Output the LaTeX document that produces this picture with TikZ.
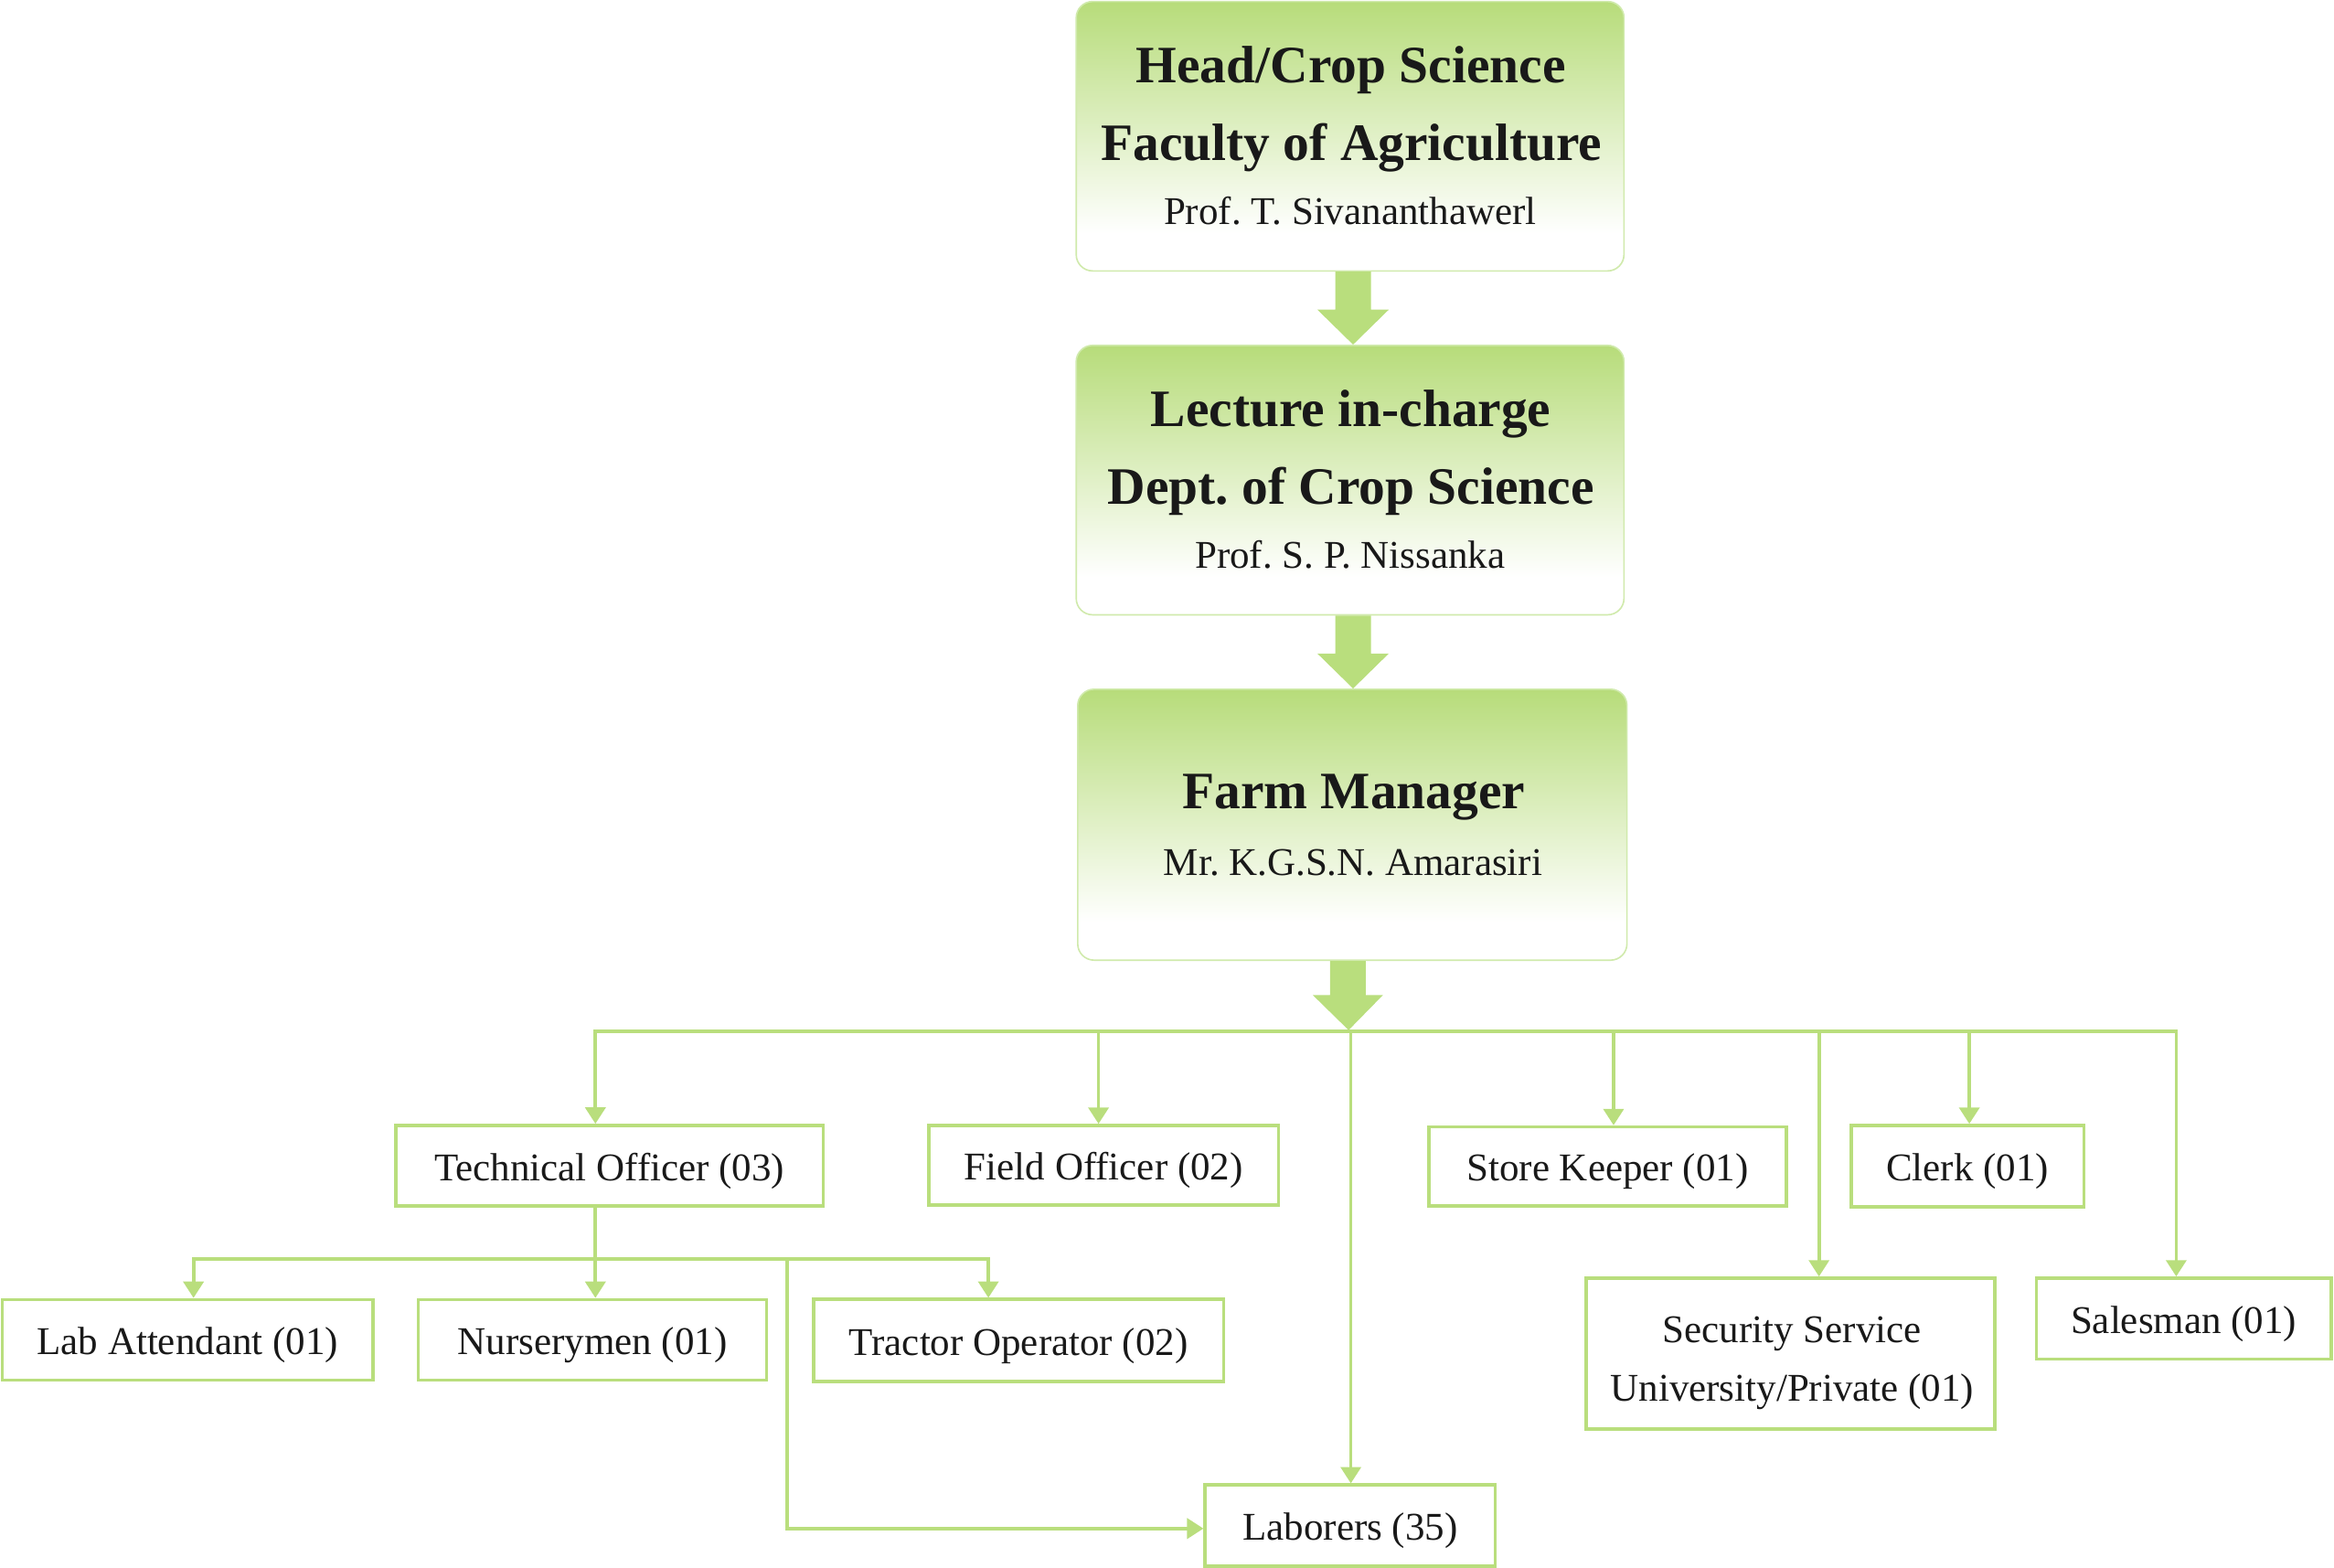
\documentclass[tikz,border=0pt]{standalone}
\usepackage{fontspec}
\setmainfont{Liberation Serif}
\usetikzlibrary{arrows.meta,calc}
\definecolor{gline}{RGB}{185,222,125}
\definecolor{gtop}{RGB}{183,220,122}
\definecolor{gborder}{RGB}{208,234,172}
\pgfdeclareverticalshading{boxgrad}{100bp}{color(0bp)=(white); color(32bp)=(white); color(75bp)=(gtop); color(100bp)=(gtop)}
\frenchspacing
\begin{document}
\begin{tikzpicture}[x=1pt,y=-1pt,
  bigbox/.style={draw=gborder, line width=1pt, rounded corners=11pt, shade, shading=boxgrad, minimum width=368pt, minimum height=181pt, inner sep=0pt},
  ttl/.style={anchor=base, inner sep=0pt, font=\fontsize{35.3}{42}\selectfont\bfseries, text=black!90},
  sub/.style={anchor=base, inner sep=0pt, font=\fontsize{26.4}{31}\selectfont, text=black!90},
  sbox/.style={draw=gline, line width=2.2pt, inner sep=0pt, font=\fontsize{26.4}{31}\selectfont, text=black!90, text height=20pt, text depth=0pt},
  conn/.style={draw=gline, line width=2.3pt},
  arr/.style={conn, -{Triangle[length=11pt,width=13.5pt]}},
  arrboth/.style={conn, {Triangle[length=11pt,width=13.5pt]}-{Triangle[length=11pt,width=13.5pt]}},
  blockarrow/.style={fill=gline}
]
\useasboundingbox (0,0) rectangle (1568,1053.3);

% big boxes
\node[bigbox] (b1) at (907,91.5) {};
\node[bigbox] (b2) at (907,322.5) {};
\node[bigbox, minimum width=369pt, minimum height=182pt] (b3) at (908.5,554) {};

\node[ttl] (b1a) at (907.5,55.3) {Head/Crop Science};
\node[ttl] (b1b) at (908,107.5) {Faculty of Agriculture};
\node[sub] (b1c) at (907,151) {Prof. T. Sivananthawerl};

\node[ttl] (b2a) at (907.5,286.3) {Lecture in-charge};
\node[ttl] (b2b) at (907.5,338.5) {Dept. of Crop Science};
\node[sub] (b2c) at (907,382) {Prof. S. P. Nissanka};

\node[ttl] (b3a) at (909.5,543.5) {Farm Manager};
\node[sub] (b3b) at (909,587.8) {Mr. K.G.S.N. Amarasiri};

% block arrows
\fill[blockarrow] ($(b1.south)+(-10,0)$) -- ($(b1.south)+(14,0)$) -- ($(b1.south)+(14,25.5)$) -- ($(b1.south)+(26,25.5)$) -- ($(b2.north)+(2,0)$) -- ($(b1.south)+(-22,25.5)$) -- ($(b1.south)+(-10,25.5)$) -- cycle;
\fill[blockarrow] ($(b2.south)+(-10,0)$) -- ($(b2.south)+(14,0)$) -- ($(b2.south)+(14,25.5)$) -- ($(b2.south)+(26,25.5)$) -- ($(b3.north)+(0.5,0)$) -- ($(b2.south)+(-22,25.5)$) -- ($(b2.south)+(-10,25.5)$) -- cycle;

% bus coordinates
\coordinate (bL) at (400,693);
\coordinate (bR) at (1462,693);
\coordinate (bM) at (906,692);
\fill[blockarrow] ($(b3.south)+(-15,0)$) -- ($(b3.south)+(9,0)$) -- ($(b3.south)+(9,23)$) -- ($(b3.south)+(20.5,23)$) -- (bM) -- ($(b3.south)+(-26.5,23)$) -- ($(b3.south)+(-15,23)$) -- cycle;

% second-level boxes
\node[sbox, minimum width=287pt, minimum height=54pt] (to) at (409.5,783) {Technical Officer (03)};
\node[sbox, minimum width=235pt, minimum height=53.5pt] (fo) at (741.5,782.8) {Field Officer (02)};
\node[sbox, minimum width=240pt, minimum height=53pt] (sk) at (1080,783.5) {Store Keeper (01)};
\node[sbox, minimum width=156.4pt, minimum height=54.7pt] (cl) at (1321.8,783.4) {Clerk (01)};
\node[draw=gline, line width=2.2pt, minimum width=274.4pt, minimum height=101.4pt, inner sep=0pt] (sec) at (1202.8,909.3) {};
\node[sub] (sec1) at (1204,901.8) {Security Service};
\node[sub] (sec2) at (1204,941) {University/Private (01)};
\node[sbox, minimum width=198pt, minimum height=54.4pt] (sal) at (1467,885.8) {Salesman (01)};

% third-level boxes
\node[sbox, minimum width=249pt, minimum height=54pt] (la) at (126,900) {Lab Attendant (01)};
\node[sbox, minimum width=234pt, minimum height=54pt] (nu) at (398,900) {Nurserymen (01)};
\node[sbox, minimum width=275.4pt, minimum height=55pt] (tr) at (684.3,900.4) {Tractor Operator (02)};
\node[sbox, minimum width=195pt, minimum height=54.5pt] (lab) at (907.1,1024.8) {Laborers (35)};

% main bus
\draw[arrboth] (bL |- to.north) -- (bL) -- (bR) -- (bR |- sal.north);
\draw[arr] (738,0 |- bL) -- (738,0 |- fo.north);
\draw[arr] (907.5,0 |- bL) -- (907.5,0 |- lab.north);
\draw[arr] (1084,0 |- bL) -- (1084,0 |- sk.north);
\draw[arr] (1222,0 |- bL) -- (1222,0 |- sec.north);
\draw[arr] (1323,0 |- bL) -- (1323,0 |- cl.north);

% sub bus under Technical Officer
\coordinate (sbL) at (130,845.7);
\coordinate (sbR) at (664,845.7);
\coordinate (sbM) at (400,845.7);
\coordinate (sbB) at (529,845.7);
\draw[conn] (to.south -| sbM) -- (sbM);
\draw[arrboth] (sbL |- la.north) -- (sbL) -- (sbR) -- (sbR |- tr.north);
\draw[arr] (sbM) -- (sbM |- nu.north);
\draw[arr] (sbB) |- ($(lab.west)+(0,2)$);
\end{tikzpicture}
\end{document}
